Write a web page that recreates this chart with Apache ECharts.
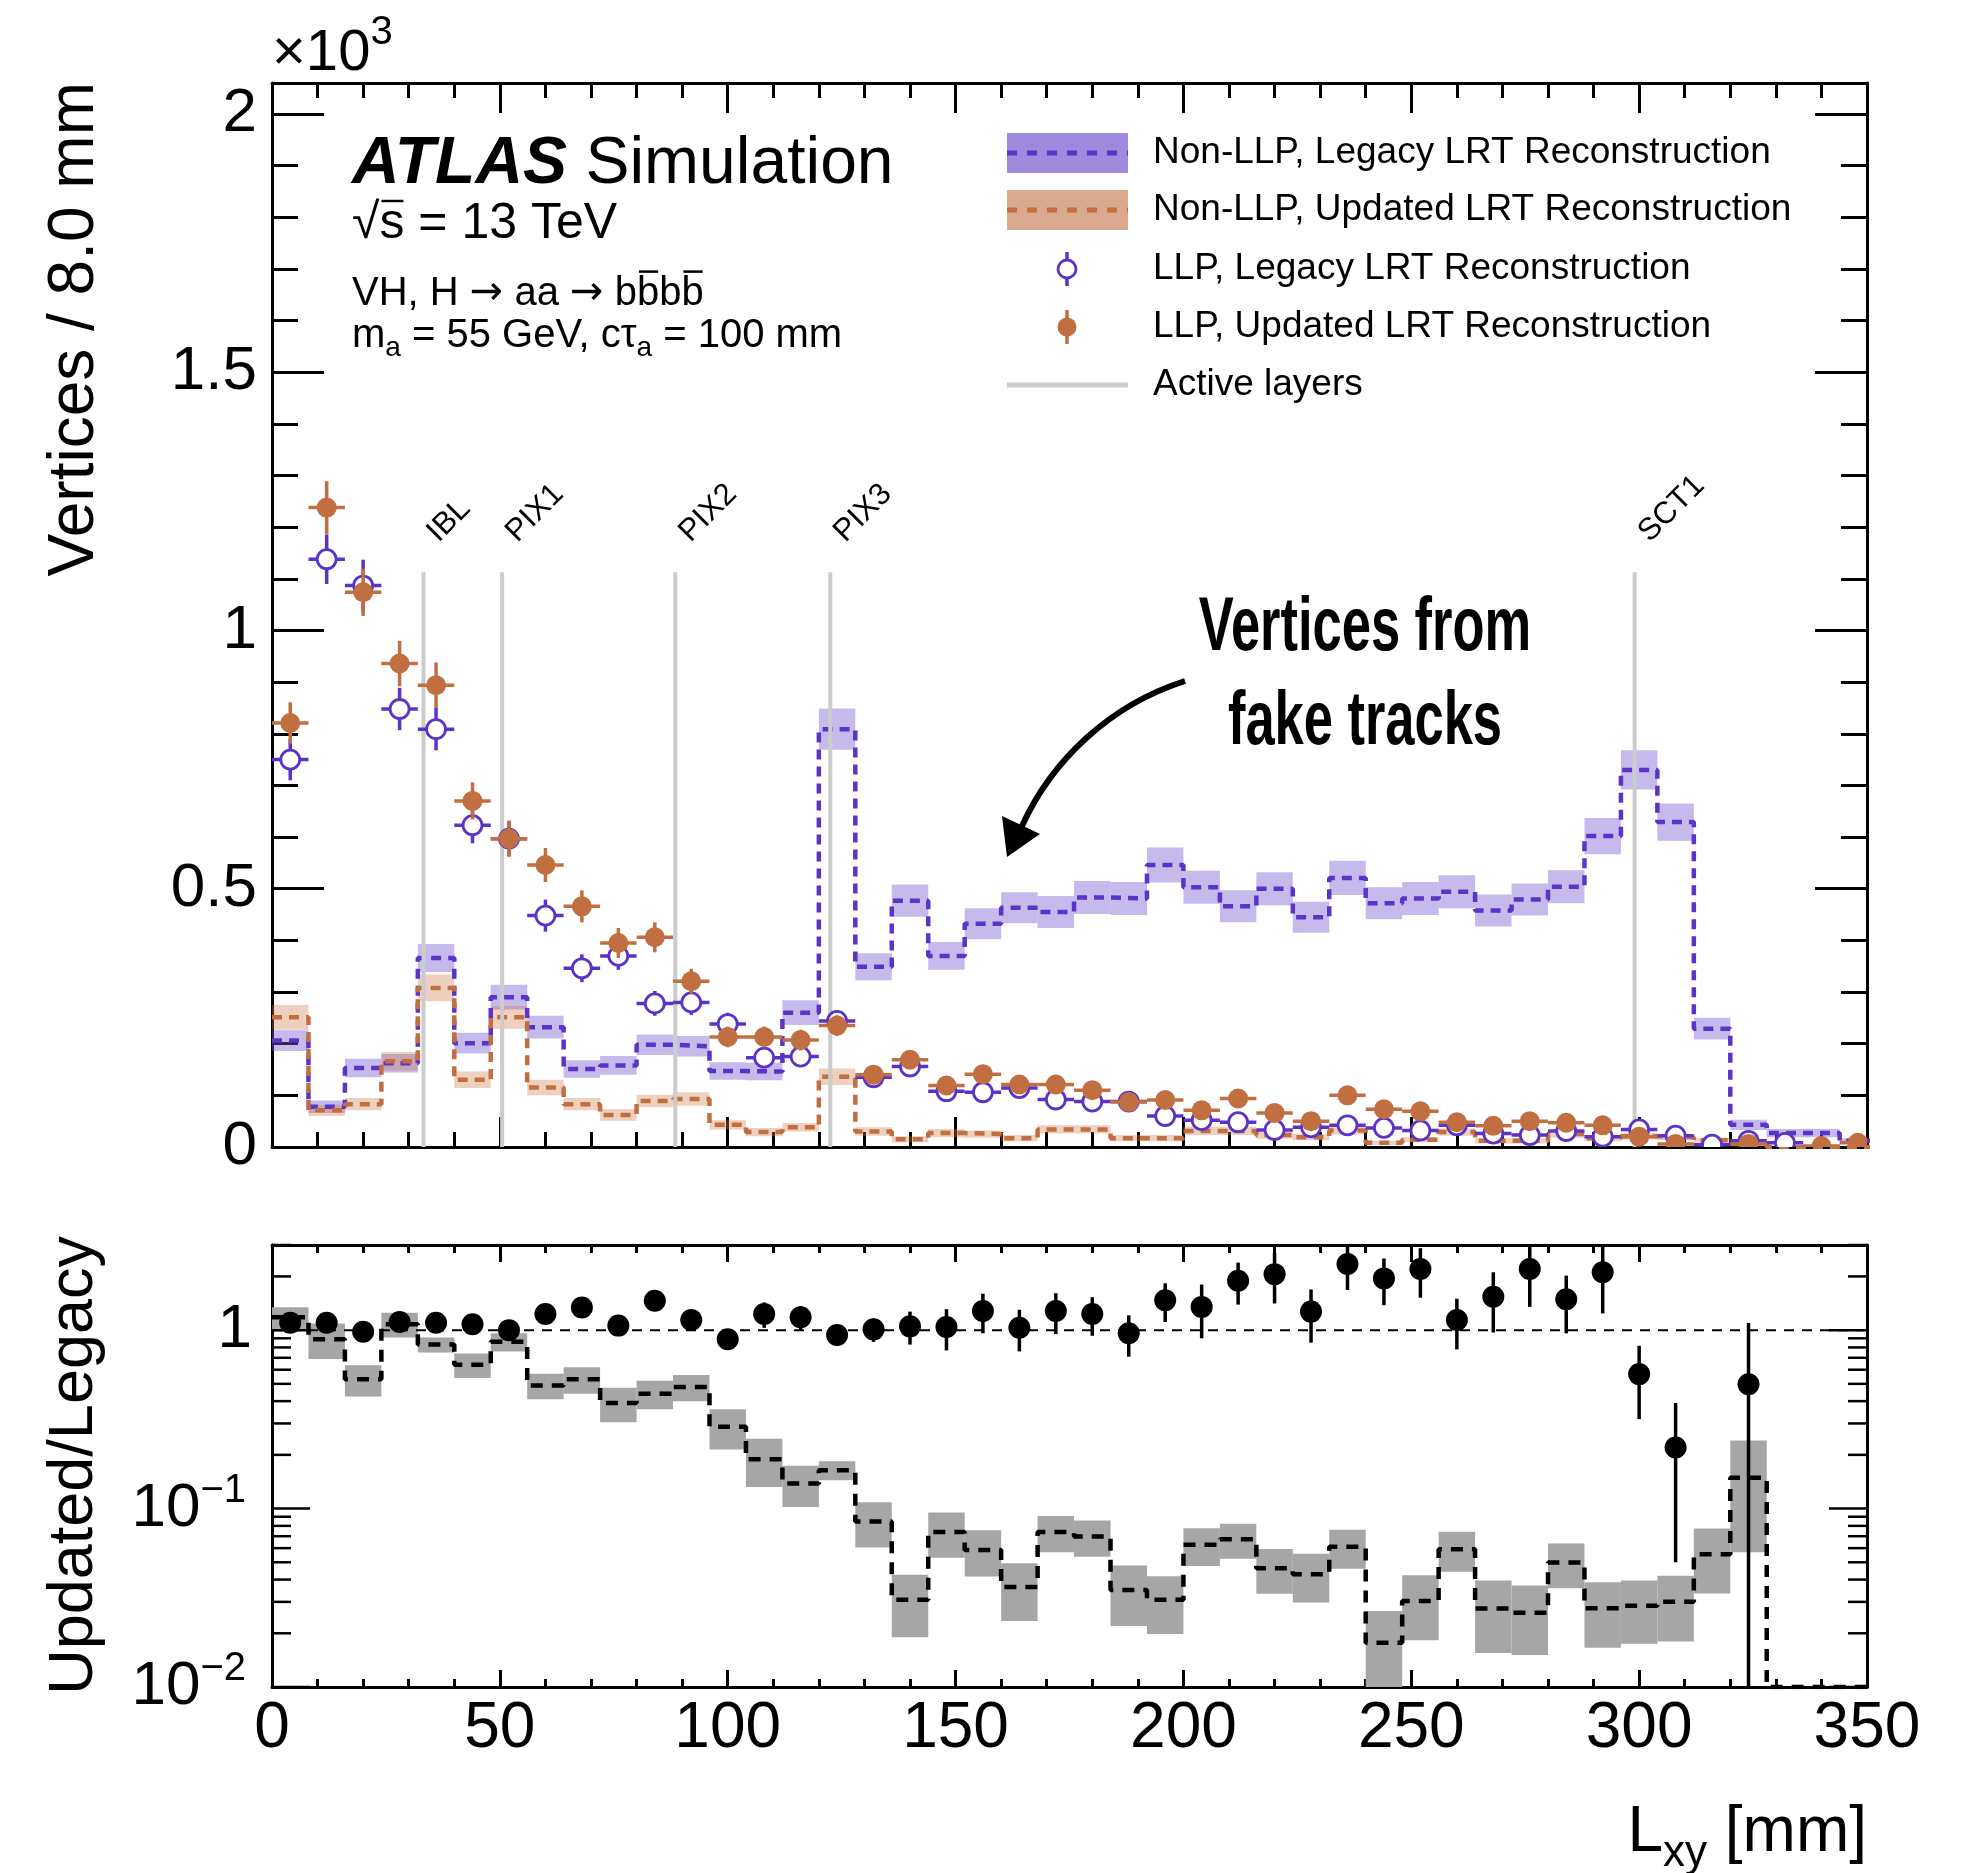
<!DOCTYPE html>
<html>
<head>
    <meta charset="utf-8">
    <title>Vertices vs Lxy</title>
    <script src="https://cdn.jsdelivr.net/npm/echarts@6/dist/echarts.min.js"></script>
    <style type="text/css">
        html, body { margin: 0; padding: 0; background: #fff; }
        #main { width: 1973px; height: 1873px; }
    </style>
</head>
<body>
<div id="main"></div>
<script type="text/javascript">
    // bins of 8 mm, centres in mm
    var binCenters = [4, 12, 20, 28, 36, 44, 52, 60, 68, 76, 84, 92, 100, 108, 116, 124, 132, 140, 148, 156, 164, 172,
        180, 188, 196, 204, 212, 220, 228, 236, 244, 252, 260, 268, 276, 284, 292, 300, 308, 316, 324, 332, 340, 348];
    var binWidth = 8;

    // top panel, units of 10^3 vertices
    var nonLLPLegacy = [0.206, 0.078, 0.153, 0.162, 0.366, 0.201, 0.290, 0.232, 0.151, 0.158,
        0.198, 0.195, 0.147, 0.146, 0.260, 0.809, 0.349, 0.477, 0.370, 0.432,
        0.463, 0.455, 0.483, 0.481, 0.546, 0.503, 0.466, 0.500, 0.445, 0.521,
        0.472, 0.481, 0.494, 0.458, 0.479, 0.504, 0.602, 0.730, 0.629, 0.229,
        0.043, 0.027, 0.027, 0.012];
    var nonLLPLegacyErr = [0.020, 0.012, 0.018, 0.018, 0.027, 0.020, 0.024, 0.022, 0.017, 0.018,
        0.020, 0.020, 0.017, 0.017, 0.024, 0.040, 0.026, 0.031, 0.027, 0.030,
        0.030, 0.031, 0.032, 0.032, 0.034, 0.032, 0.031, 0.032, 0.030, 0.033,
        0.031, 0.032, 0.032, 0.031, 0.031, 0.032, 0.035, 0.038, 0.036, 0.021,
        0.010, 0.008, 0.008, 0.005];
    var nonLLPUpdated = [0.251, 0.071, 0.083, 0.166, 0.308, 0.130, 0.251, 0.115, 0.083, 0.062,
        0.089, 0.093, 0.043, 0.029, 0.038, 0.136, 0.030, 0.015, 0.027, 0.025,
        0.017, 0.034, 0.034, 0.017, 0.017, 0.031, 0.031, 0.023, 0.019, 0.032,
        0.008, 0.014, 0.029, 0.012, 0.012, 0.025, 0.017, 0.021, 0.019, 0.013,
        0.006, 0, 0, 0];
    var nonLLPUpdatedErr = [0.024, 0.011, 0.012, 0.018, 0.026, 0.016, 0.022, 0.015, 0.012, 0.011,
        0.012, 0.013, 0.009, 0.008, 0.008, 0.016, 0.008, 0.006, 0.008, 0.007,
        0.006, 0.008, 0.008, 0.006, 0.006, 0.008, 0.008, 0.007, 0.006, 0.008,
        0.004, 0.005, 0.007, 0.005, 0.005, 0.007, 0.006, 0.006, 0.006, 0.005,
        0.004, 0, 0, 0];
    var llpLegacy = [0.750, 1.138, 1.087, 0.848, 0.809, 0.623, 0.597, 0.448, 0.346, 0.370,
        0.278, 0.280, 0.238, 0.173, 0.175, 0.244, 0.135, 0.156, 0.108, 0.106,
        0.114, 0.092, 0.088, 0.088, 0.060, 0.052, 0.048, 0.033, 0.038, 0.042,
        0.037, 0.032, 0.042, 0.026, 0.023, 0.031, 0.020, 0.034, 0.022, 0.0045,
        0.012, 0.008, null, null];
    var llpLegacyErr = [0.040, 0.048, 0.050, 0.041, 0.041, 0.035, 0.034, 0.031, 0.027, 0.027,
        0.024, 0.024, 0.022, 0.018, 0.018, 0.021, 0.016, 0.017, 0.014, 0.014,
        0.014, 0.013, 0.013, 0.013, 0.011, 0.010, 0.010, 0.008, 0.009, 0.009,
        0.009, 0.008, 0.009, 0.007, 0.007, 0.008, 0.006, 0.008, 0.006, 0.003,
        0.005, 0.004, null, null];
    var llpUpdated = [0.821, 1.238, 1.074, 0.936, 0.894, 0.670, 0.597, 0.546, 0.466, 0.395,
        0.406, 0.321, 0.213, 0.213, 0.207, 0.235, 0.140, 0.169, 0.119, 0.141,
        0.121, 0.121, 0.110, 0.087, 0.091, 0.071, 0.094, 0.066, 0.050, 0.100,
        0.073, 0.069, 0.048, 0.041, 0.050, 0.047, 0.042, 0.020, 0.006, null,
        0.006, null, 0.002, 0.008];
    var llpUpdatedErr = [0.040, 0.051, 0.046, 0.044, 0.044, 0.036, 0.035, 0.033, 0.031, 0.029,
        0.029, 0.024, 0.020, 0.020, 0.020, 0.020, 0.016, 0.017, 0.015, 0.016,
        0.015, 0.015, 0.014, 0.013, 0.013, 0.012, 0.013, 0.011, 0.010, 0.014,
        0.012, 0.011, 0.010, 0.009, 0.010, 0.010, 0.009, 0.007, 0.004, null,
        0.004, null, 0.002, 0.004];

    // bottom panel, Updated/Legacy
    var ratioLLP = [1.10, 1.10, 0.98, 1.11, 1.10, 1.08, 1.00, 1.23, 1.34, 1.06,
        1.46, 1.14, 0.89, 1.23, 1.18, 0.94, 1.01, 1.05, 1.04, 1.28,
        1.03, 1.28, 1.23, 0.96, 1.47, 1.35, 1.89, 2.06, 1.27, 2.35,
        1.95, 2.20, 1.14, 1.54, 2.20, 1.49, 2.11, 0.567, 0.220, null,
        0.498, null, null, null];
    var ratioLLPErr = [0.05, 0.05, 0.05, 0.06, 0.06, 0.06, 0.07, 0.10, 0.11, 0.10,
        0.14, 0.12, 0.11, 0.20, 0.18, 0.12, 0.15, 0.22, 0.27, 0.32,
        0.27, 0.33, 0.30, 0.25, 0.36, 0.45, 0.50, 0.65, 0.42, 0.67,
        0.57, 0.68, 0.36, 0.57, 0.85, 0.53, 0.87, 0.25, 0.17, null,
        0.60, null, null, null];
    var ratioNonLLP = [1.18, 0.89, 0.53, 1.08, 0.83, 0.64, 0.86, 0.49, 0.53, 0.39,
        0.44, 0.48, 0.287, 0.189, 0.138, 0.164, 0.0845, 0.0308, 0.074, 0.0586,
        0.0364, 0.074, 0.0697, 0.035, 0.0308, 0.0626, 0.0673, 0.0463, 0.0428, 0.061,
        0.0177, 0.0303, 0.0592, 0.0275, 0.0261, 0.0498, 0.0276, 0.0285, 0.030, 0.0554,
        0.149, 0, 0, 0];
    var ratioNonLLPErr = [0.165, 0.20, 0.105, 0.17, 0.08, 0.10, 0.10, 0.08, 0.09, 0.085,
        0.08, 0.08, 0.073, 0.057, 0.036, 0.02, 0.024, 0.0118, 0.021, 0.017,
        0.013, 0.017, 0.016, 0.013, 0.011, 0.015, 0.015, 0.013, 0.013, 0.015,
        0.009, 0.012, 0.015, 0.012, 0.011, 0.014, 0.011, 0.011, 0.012, 0.022,
        0.092, 0, 0, 0];

    // detector layers (mm)
    var layerRadii = [33.25, 50.5, 88.5, 122.5, 299];
    var layerNames = ['IBL', 'PIX1', 'PIX2', 'PIX3', 'SCT1'];
    var layerLineTop = 1.113;
    var layerLabelY = 1.160;

    var legendLabels = ['Non-LLP, Legacy LRT Reconstruction', 'Non-LLP, Updated LRT Reconstruction',
        'LLP, Legacy LRT Reconstruction', 'LLP, Updated LRT Reconstruction', 'Active layers'];

    var FONT = '"Liberation Sans", Arial, Helvetica, sans-serif';
    var ARROWFONT = '"DejaVu Sans", "Liberation Sans", sans-serif';
    var PURPLE = '#5b33c8';
    var ORANGE = '#c16f40';
    var ratioMin = 0.01, ratioMax = 3;

    var mctx = document.createElement('canvas').getContext('2d');
    function fontOf(p) {
        return (p.style || 'normal') + ' ' + (p.weight || 'normal') + ' ' + p.size + 'px ' + (p.family || FONT);
    }
    // text made of several pieces (sub/superscripts, overlines) placed on a baseline
    function textRun(x, baseline, pieces, anchor) {
        var widths = pieces.map(function (p) {
            mctx.font = fontOf(p);
            return mctx.measureText(p.t).width;
        });
        var total = widths.reduce(function (a, b) { return a + b; }, 0);
        var cx = anchor === 'right' ? x - total : x;
        var out = [];
        pieces.forEach(function (p, k) {
            var by = baseline + (p.dy || 0);
            out.push({
                type: 'text', x: cx, y: by - 0.31 * p.size,
                style: {text: p.t, font: fontOf(p), fill: '#000', align: 'left', verticalAlign: 'middle',
                    textAlign: 'left', textVerticalAlign: 'middle'}
            });
            if (p.bar) {
                out.push({
                    type: 'line',
                    shape: {x1: cx + 2, y1: by - p.bar * p.size, x2: cx + widths[k] - 1, y2: by - p.bar * p.size},
                    style: {stroke: '#000', lineWidth: 2.5}
                });
            }
            cx += widths[k];
        });
        return out;
    }

    function rows(vals, errs) {
        var out = [];
        binCenters.forEach(function (c, i) {
            if (vals[i] != null) out.push([c, vals[i], errs[i]]);
        });
        return out;
    }

    function stepLine(vals, floor) {
        var pts = [];
        binCenters.forEach(function (c, i) {
            var v = vals[i] == null ? floor : Math.max(vals[i], floor);
            pts.push([c - binWidth / 2, v], [c + binWidth / 2, v]);
        });
        return pts;
    }

    function bandRenderer(fill, floor) {
        return function (params, api) {
            var x = api.value(0), v = api.value(1), e = api.value(2);
            if (!(e > 0)) return null;
            var p0 = api.coord([x - binWidth / 2, v + e]);
            var p1 = api.coord([x + binWidth / 2, Math.max(v - e, floor)]);
            return {
                type: 'rect',
                shape: {x: p0[0], y: p0[1], width: p1[0] - p0[0], height: p1[1] - p0[1]},
                style: {fill: fill}
            };
        };
    }

    function pointRenderer(color, open, xErr, radius, floor) {
        return function (params, api) {
            var x = api.value(0), v = api.value(1), e = api.value(2);
            var c = api.coord([x, v]);
            var kids = [];
            if (xErr) {
                var l = api.coord([x - binWidth / 2, v]), r = api.coord([x + binWidth / 2, v]);
                kids.push({type: 'line', shape: {x1: l[0], y1: c[1], x2: r[0], y2: c[1]},
                    style: {stroke: color, lineWidth: 3.5}});
            }
            if (e > 0) {
                var top = api.coord([x, v + e]), bot = api.coord([x, Math.max(v - e, floor)]);
                kids.push({type: 'line', shape: {x1: c[0], y1: top[1], x2: c[0], y2: bot[1]},
                    style: {stroke: color, lineWidth: 3.5}});
            }
            kids.push({type: 'circle', shape: {cx: c[0], cy: c[1], r: radius},
                style: open ? {fill: '#fff', stroke: color, lineWidth: 2.8} : {fill: color}});
            return {type: 'group', children: kids};
        };
    }

    // tick marks and labels for the log ratio axis
    var logTicks = [];
    for (var k = -2; k <= 0; k++) {
        for (var m = 1; m <= 9; m++) {
            var t = m * Math.pow(10, k);
            if (t <= ratioMax + 1e-9) logTicks.push([0, t, m === 1 ? 1 : 0, k]);
        }
    }
    function logTickRenderer(params, api) {
        var cs = params.coordSys;
        var t = api.value(1), major = api.value(2), pw = api.value(3);
        var y = api.coord([0, t])[1];
        var len = major ? 38 : 19;
        var kids = [
            {type: 'line', shape: {x1: cs.x, y1: y, x2: cs.x + len, y2: y}, style: {stroke: '#000', lineWidth: 2.5}},
            {type: 'line', shape: {x1: cs.x + cs.width - len, y1: y, x2: cs.x + cs.width, y2: y},
                style: {stroke: '#000', lineWidth: 2.5}}
        ];
        if (major) {
            if (pw === 0) {
                kids.push({type: 'text', x: cs.x - 20, y: y,
                    style: {text: '1', font: '62px ' + FONT, fill: '#000', align: 'right', verticalAlign: 'middle',
                        textAlign: 'right', textVerticalAlign: 'middle'}});
            } else {
                var ex = '\u2212' + (-pw);
                mctx.font = '40px ' + FONT;
                var ew = mctx.measureText(ex).width;
                kids.push({type: 'text', x: cs.x - 26, y: y - 18,
                    style: {text: ex, font: '40px ' + FONT, fill: '#000', align: 'right', verticalAlign: 'middle',
                        textAlign: 'right', textVerticalAlign: 'middle'}});
                kids.push({type: 'text', x: cs.x - 26 - ew, y: y,
                    style: {text: '10', font: '62px ' + FONT, fill: '#000', align: 'right', verticalAlign: 'middle',
                        textAlign: 'right', textVerticalAlign: 'middle'}});
            }
        }
        return {type: 'group', children: kids};
    }

    function layerRenderer(params, api) {
        var x = api.value(0);
        var b = api.coord([x, 0]), t = api.coord([x, layerLineTop]), lab = api.coord([x, layerLabelY]);
        return {
            type: 'group', children: [
                {type: 'line', shape: {x1: b[0], y1: b[1], x2: t[0], y2: t[1]}, style: {stroke: '#cccccc', lineWidth: 4}},
                {type: 'text', x: lab[0] + 20, y: lab[1], rotation: Math.PI / 4,
                    style: {text: layerNames[params.dataIndex], font: '31px ' + FONT, fill: '#000',
                        align: 'left', verticalAlign: 'bottom', textAlign: 'left', textVerticalAlign: 'bottom'}}
            ]
        };
    }

    var gridL = 272, gridW = 1595;
    var frame = {show: true, onZero: false, lineStyle: {color: '#000', width: 3}};

    function xAxisDef(grid, pos, labels, tickLen, minorLen) {
        return {
            type: 'value', gridIndex: grid, position: pos, min: 0, max: 350, interval: 50,
            axisLine: frame,
            axisTick: {show: true, inside: true, length: tickLen, lineStyle: {color: '#000', width: 3}},
            minorTick: {show: true, splitNumber: 5, length: minorLen, lineStyle: {color: '#000', width: 3}},
            axisLabel: {show: labels, fontSize: 64, fontFamily: FONT, color: '#000', margin: 10},
            splitLine: {show: false}, minorSplitLine: {show: false}
        };
    }

    var chart = echarts.init(document.getElementById('main'), null, {renderer: 'canvas'});

    var graphics = [];
    // x10^3
    graphics = graphics.concat(textRun(272, 72, [{t: '\u00d710', size: 58}, {t: '3', size: 40, dy: -27}]));
    // ATLAS block
    graphics = graphics.concat(textRun(352, 185, [{t: 'ATLAS', size: 66, weight: 'bold', style: 'italic'},
        {t: ' Simulation', size: 66}]));
    graphics = graphics.concat(textRun(352, 240, [{t: '\u221a', size: 50}, {t: 's', size: 50, bar: 0.78},
        {t: ' = 13 TeV', size: 50}]));
    graphics = graphics.concat(textRun(352, 306, [{t: 'VH, H ', size: 40},
        {t: '\u2192', size: 40, family: ARROWFONT}, {t: ' aa ', size: 40},
        {t: '\u2192', size: 40, family: ARROWFONT}, {t: ' b', size: 40},
        {t: 'b', size: 40, bar: 0.86}, {t: 'b', size: 40}, {t: 'b', size: 40, bar: 0.86}]));
    graphics = graphics.concat(textRun(352, 348, [{t: 'm', size: 40}, {t: 'a', size: 28, dy: 9},
        {t: ' = 55 GeV, c\u03c4', size: 40}, {t: 'a', size: 28, dy: 9}, {t: ' = 100 mm', size: 40}]));
    // axis titles
    graphics.push({type: 'text', x: 75, y: 82, rotation: Math.PI / 2,
        style: {text: 'Vertices / 8.0 mm', font: '64px ' + FONT, fill: '#000', align: 'right', verticalAlign: 'middle',
            textAlign: 'right', textVerticalAlign: 'middle'}});
    graphics.push({type: 'text', x: 75, y: 1236, rotation: Math.PI / 2,
        style: {text: 'Updated/Legacy', font: '63px ' + FONT, fill: '#000', align: 'right', verticalAlign: 'middle',
            textAlign: 'right', textVerticalAlign: 'middle'}});
    graphics = graphics.concat(textRun(1867, 1853, [{t: 'L', size: 64}, {t: 'xy', size: 44, dy: 14},
        {t: ' [mm]', size: 64}], 'right'));

    // legend
    var legY = [153, 210, 269, 327, 385];
    var legX0 = 1007, legX1 = 1128, legMid = 1067;
    graphics.push({type: 'rect', shape: {x: legX0, y: legY[0] - 20, width: legX1 - legX0, height: 40}, style: {fill: '#9f8ade'}});
    graphics.push({type: 'line', shape: {x1: legX0, y1: legY[0], x2: legX1, y2: legY[0]},
        style: {stroke: PURPLE, lineWidth: 5, lineDash: [10, 10]}});
    graphics.push({type: 'rect', shape: {x: legX0, y: legY[1] - 20, width: legX1 - legX0, height: 40}, style: {fill: '#d9aa8e'}});
    graphics.push({type: 'line', shape: {x1: legX0, y1: legY[1], x2: legX1, y2: legY[1]},
        style: {stroke: ORANGE, lineWidth: 5, lineDash: [10, 10]}});
    graphics.push({type: 'line', shape: {x1: legMid, y1: legY[2] - 17, x2: legMid, y2: legY[2] + 17}, style: {stroke: PURPLE, lineWidth: 3.5}});
    graphics.push({type: 'circle', shape: {cx: legMid, cy: legY[2], r: 9}, style: {fill: '#fff', stroke: PURPLE, lineWidth: 2.8}});
    graphics.push({type: 'line', shape: {x1: legMid, y1: legY[3] - 17, x2: legMid, y2: legY[3] + 17}, style: {stroke: ORANGE, lineWidth: 3.5}});
    graphics.push({type: 'circle', shape: {cx: legMid, cy: legY[3], r: 9.5}, style: {fill: ORANGE}});
    graphics.push({type: 'line', shape: {x1: legX0, y1: legY[4], x2: legX1, y2: legY[4]}, style: {stroke: '#cccccc', lineWidth: 5}});
    legendLabels.forEach(function (s, i) {
        graphics.push({type: 'text', x: 1153, y: legY[i],
            style: {text: s, font: '37px ' + FONT, fill: '#000', align: 'left', verticalAlign: 'middle',
                textAlign: 'left', textVerticalAlign: 'middle'}});
    });

    // annotation
    graphics.push({type: 'text', x: 1365, y: 629, scaleX: 0.69,
        style: {text: 'Vertices from', font: 'bold 76px ' + FONT, fill: '#000', align: 'center', verticalAlign: 'middle',
            textAlign: 'center', textVerticalAlign: 'middle'}});
    graphics.push({type: 'text', x: 1365, y: 723, scaleX: 0.69,
        style: {text: 'fake tracks', font: 'bold 76px ' + FONT, fill: '#000', align: 'center', verticalAlign: 'middle',
            textAlign: 'center', textVerticalAlign: 'middle'}});
    graphics.push({type: 'bezierCurve',
        shape: {x1: 1185, y1: 681, cpx1: 1110, cpy1: 705, cpx2: 1052, cpy2: 760, x2: 1022, y2: 826},
        style: {stroke: '#000', lineWidth: 6, fill: null}});
    graphics.push({type: 'polygon', shape: {points: [[1002, 816], [1040, 834], [1007, 857]]}, style: {fill: '#000'}});

    chart.setOption({
        animation: false,
        backgroundColor: '#fff',
        textStyle: {fontFamily: FONT},
        grid: [
            {left: gridL, top: 83, width: gridW, height: 1064, containLabel: false, outerBoundsMode: 'none'},
            {left: gridL, top: 1245, width: gridW, height: 442, containLabel: false, outerBoundsMode: 'none'}
        ],
        xAxis: [
            xAxisDef(0, 'bottom', false, 30, 15),
            xAxisDef(0, 'top', false, 30, 15),
            xAxisDef(1, 'bottom', true, 17, 8),
            xAxisDef(1, 'top', false, 17, 8)
        ],
        yAxis: [
            {
                type: 'value', gridIndex: 0, position: 'left', min: 0, max: 2.06, interval: 0.5,
                axisLine: frame,
                axisTick: {show: true, inside: true, length: 52, lineStyle: {color: '#000', width: 3}},
                minorTick: {show: true, splitNumber: 5, length: 26, lineStyle: {color: '#000', width: 3}},
                axisLabel: {
                    fontSize: 62, fontFamily: FONT, color: '#000', margin: 15,
                    formatter: function (v) {
                        return Math.abs(v * 2 - Math.round(v * 2)) < 1e-6 ? String(Math.round(v * 2) / 2) : '';
                    }
                },
                splitLine: {show: false}
            },
            {
                type: 'value', gridIndex: 0, position: 'right', min: 0, max: 2.06, interval: 0.5,
                axisLine: frame,
                axisTick: {show: true, inside: true, length: 52, lineStyle: {color: '#000', width: 3}},
                minorTick: {show: true, splitNumber: 5, length: 26, lineStyle: {color: '#000', width: 3}},
                axisLabel: {show: false},
                splitLine: {show: false}
            },
            {
                type: 'log', logBase: 10, gridIndex: 1, position: 'left', min: ratioMin, max: ratioMax,
                axisLine: frame, axisTick: {show: false}, axisLabel: {show: false}, splitLine: {show: false}
            },
            {
                type: 'log', logBase: 10, gridIndex: 1, position: 'right', min: ratioMin, max: ratioMax,
                axisLine: frame, axisTick: {show: false}, axisLabel: {show: false}, splitLine: {show: false}
            }
        ],
        series: [
            {
                type: 'custom', name: 'bandLegacy', xAxisIndex: 0, yAxisIndex: 0, clip: true, z: 1,
                renderItem: bandRenderer('rgba(120, 90, 212, 0.42)', 0),
                data: rows(nonLLPLegacy, nonLLPLegacyErr)
            },
            {
                type: 'custom', name: 'bandUpdated', xAxisIndex: 0, yAxisIndex: 0, clip: true, z: 1,
                renderItem: bandRenderer('rgba(205, 125, 75, 0.36)', 0),
                data: rows(nonLLPUpdated, nonLLPUpdatedErr)
            },
            {
                type: 'line', name: 'Non-LLP, Legacy', xAxisIndex: 0, yAxisIndex: 0, symbol: 'none', z: 2,
                data: stepLine(nonLLPLegacy, 0),
                lineStyle: {color: PURPLE, width: 4.5, type: [10, 7]}
            },
            {
                type: 'line', name: 'Non-LLP, Updated', xAxisIndex: 0, yAxisIndex: 0, symbol: 'none', z: 2,
                data: stepLine(nonLLPUpdated, 0),
                lineStyle: {color: ORANGE, width: 4.5, type: [10, 7]}
            },
            {
                type: 'custom', name: 'layers', xAxisIndex: 0, yAxisIndex: 0, clip: false, z: 3,
                renderItem: layerRenderer,
                data: layerRadii.map(function (r) { return [r, 0]; })
            },
            {
                type: 'custom', name: 'LLP, Legacy', xAxisIndex: 0, yAxisIndex: 0, clip: true, z: 4,
                renderItem: pointRenderer(PURPLE, true, true, 9.5, -1),
                data: rows(llpLegacy, llpLegacyErr)
            },
            {
                type: 'custom', name: 'LLP, Updated', xAxisIndex: 0, yAxisIndex: 0, clip: true, z: 5,
                renderItem: pointRenderer(ORANGE, false, true, 10, -1),
                data: rows(llpUpdated, llpUpdatedErr)
            },
            // ratio panel
            {
                type: 'custom', name: 'ratioBand', xAxisIndex: 2, yAxisIndex: 2, clip: true, z: 1,
                renderItem: bandRenderer('#a6a6a6', 0.001),
                data: rows(ratioNonLLP, ratioNonLLPErr)
            },
            {
                type: 'line', name: 'ratio Non-LLP', xAxisIndex: 2, yAxisIndex: 2, symbol: 'none', z: 2,
                data: stepLine(ratioNonLLP, ratioMin),
                lineStyle: {color: '#000', width: 4.5, type: [12, 9]}
            },
            {
                type: 'line', name: 'unity', xAxisIndex: 2, yAxisIndex: 2, symbol: 'none', z: 2,
                data: [[0, 1], [350, 1]],
                lineStyle: {color: '#000', width: 2, type: [10, 8]}
            },
            {
                type: 'custom', name: 'ratio LLP', xAxisIndex: 2, yAxisIndex: 2, clip: true, z: 4,
                renderItem: pointRenderer('#000', false, false, 11, 0.0001),
                data: rows(ratioLLP, ratioLLPErr)
            },
            {
                type: 'custom', name: 'logTicks', xAxisIndex: 2, yAxisIndex: 2, clip: false, z: 6,
                renderItem: logTickRenderer,
                data: logTicks
            }
        ],
        graphic: {elements: graphics}
    });
</script>
</body>
</html>
